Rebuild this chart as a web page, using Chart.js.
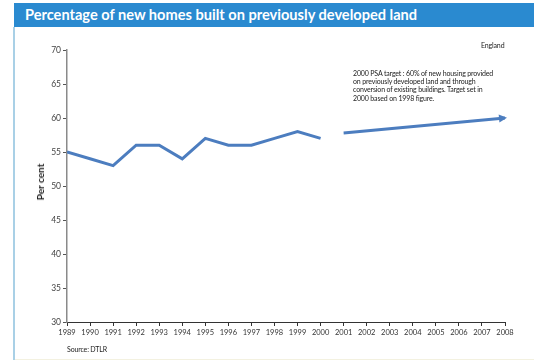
<!DOCTYPE html>
<html>
<head>
<meta charset="utf-8">
<script src="https://cdn.jsdelivr.net/npm/chart.js@4.4.1/dist/chart.umd.min.js"></script>
<style>
  html, body { margin: 0; padding: 0; background: #fff; }
  #wrap { position: relative; width: 534px; height: 363px; overflow: hidden; font-family: Lato, 'Open Sans', sans-serif; }
  #titleBar { position: absolute; left: 14px; top: 3px; width: 520px; height: 24px; background: #2a8ad0; }
  #titleBar span { position: absolute; left: 11px; top: 3px; color: #fff; font-weight: bold; font-size: 14.6px; white-space: nowrap; }
  #leftBorder { position: absolute; left: 13px; top: 27px; width: 2px; height: 333px; background: #a9d0e6; }
  #bottomBorder { position: absolute; left: 15px; top: 359px; width: 519px; height: 1px; background: #f3f1e0; }
  canvas#chart { position: absolute; left: 0; top: 0; }
  .note { position: absolute; color: #222; font-size: 7px; line-height: 8.2px; letter-spacing: -0.15px; white-space: nowrap; }
  #yTitle { position: absolute; left: 40px; top: 182px; transform: translate(-50%, -50%) rotate(-90deg); font-weight: bold; font-size: 10px; color: #222; white-space: nowrap; }
</style>
</head>
<body>
<div id="wrap">
  <div id="titleBar"><span>Percentage of new homes built on previously developed land</span></div>
  <div id="leftBorder"></div>
  <div id="bottomBorder"></div>
  <canvas id="chart" width="534" height="363"></canvas>
  <div id="yTitle">Per cent</div>
  <div class="note" style="left:481px; top:41px;">England</div>
  <div class="note" style="left:353px; top:69px;">2000 PSA target : 60% of new housing provided<br>on previously developed land and through<br>conversion of existing buildings. Target set in<br>2000 based on 1998 figure.</div>
  <div class="note" style="left:67px; top:345px;">Source: DTLR</div>
</div>
<script>
const years = [1989, 1990, 1991, 1992, 1993, 1994, 1995, 1996, 1997, 1998, 1999, 2000];
const percents = [55, 54, 53, 56, 56, 54, 57, 56, 56, 57, 58, 57];
const targetYears = [2001, 2008];
const targetValues = [57.8, 60];
const lineColor = '#4c7dbf';

const arrowHead = {
  id: 'arrowHead',
  afterDatasetsDraw(chart) {
    const pts = chart.getDatasetMeta(1).data;
    if (pts.length < 2) return;
    const a = pts[pts.length - 2], b = pts[pts.length - 1];
    const ang = Math.atan2(b.y - a.y, b.x - a.x);
    const ctx = chart.ctx;
    ctx.save();
    ctx.translate(b.x, b.y);
    ctx.rotate(ang);
    ctx.fillStyle = lineColor;
    ctx.beginPath();
    ctx.moveTo(2, 0);
    ctx.lineTo(-6, -4);
    ctx.lineTo(-6, 4);
    ctx.closePath();
    ctx.fill();
    ctx.restore();
  }
};

new Chart(document.getElementById('chart'), {
  type: 'line',
  data: {
    datasets: [
      { data: years.map((y, i) => ({ x: y, y: percents[i] })), borderColor: lineColor, borderWidth: 3, pointRadius: 0, tension: 0 },
      { data: targetYears.map((y, i) => ({ x: y, y: targetValues[i] })), borderColor: lineColor, borderWidth: 3, pointRadius: 0, tension: 0 }
    ]
  },
  options: {
    responsive: false,
    animation: false,
    layout: { padding: { left: 20, right: 29, top: 50, bottom: 25 } },
    plugins: { legend: { display: false }, tooltip: { enabled: false } },
    scales: {
      x: {
        type: 'linear', min: 1989, max: 2008,
        afterFit: (s) => { s.height = 16; },
        ticks: { stepSize: 1, autoSkip: false, maxRotation: 0, color: '#333', font: { family: 'Lato', size: 7.5 }, padding: 2, callback: (v) => String(v) },
        grid: { drawOnChartArea: false, drawTicks: true, tickLength: 4, color: '#333' },
        border: { display: true, color: '#333', width: 1 }
      },
      y: {
        min: 30, max: 70,
        afterFit: (s) => { s.width = 47; },
        ticks: { stepSize: 5, color: '#444', font: { family: 'Lato', size: 8.5 }, padding: 2 },
        grid: { drawOnChartArea: false, drawTicks: true, tickLength: 4, color: '#555' },
        border: { display: true, color: '#8a8a8a', width: 1.5 }
      }
    }
  },
  plugins: [arrowHead]
});
</script>
</body>
</html>
